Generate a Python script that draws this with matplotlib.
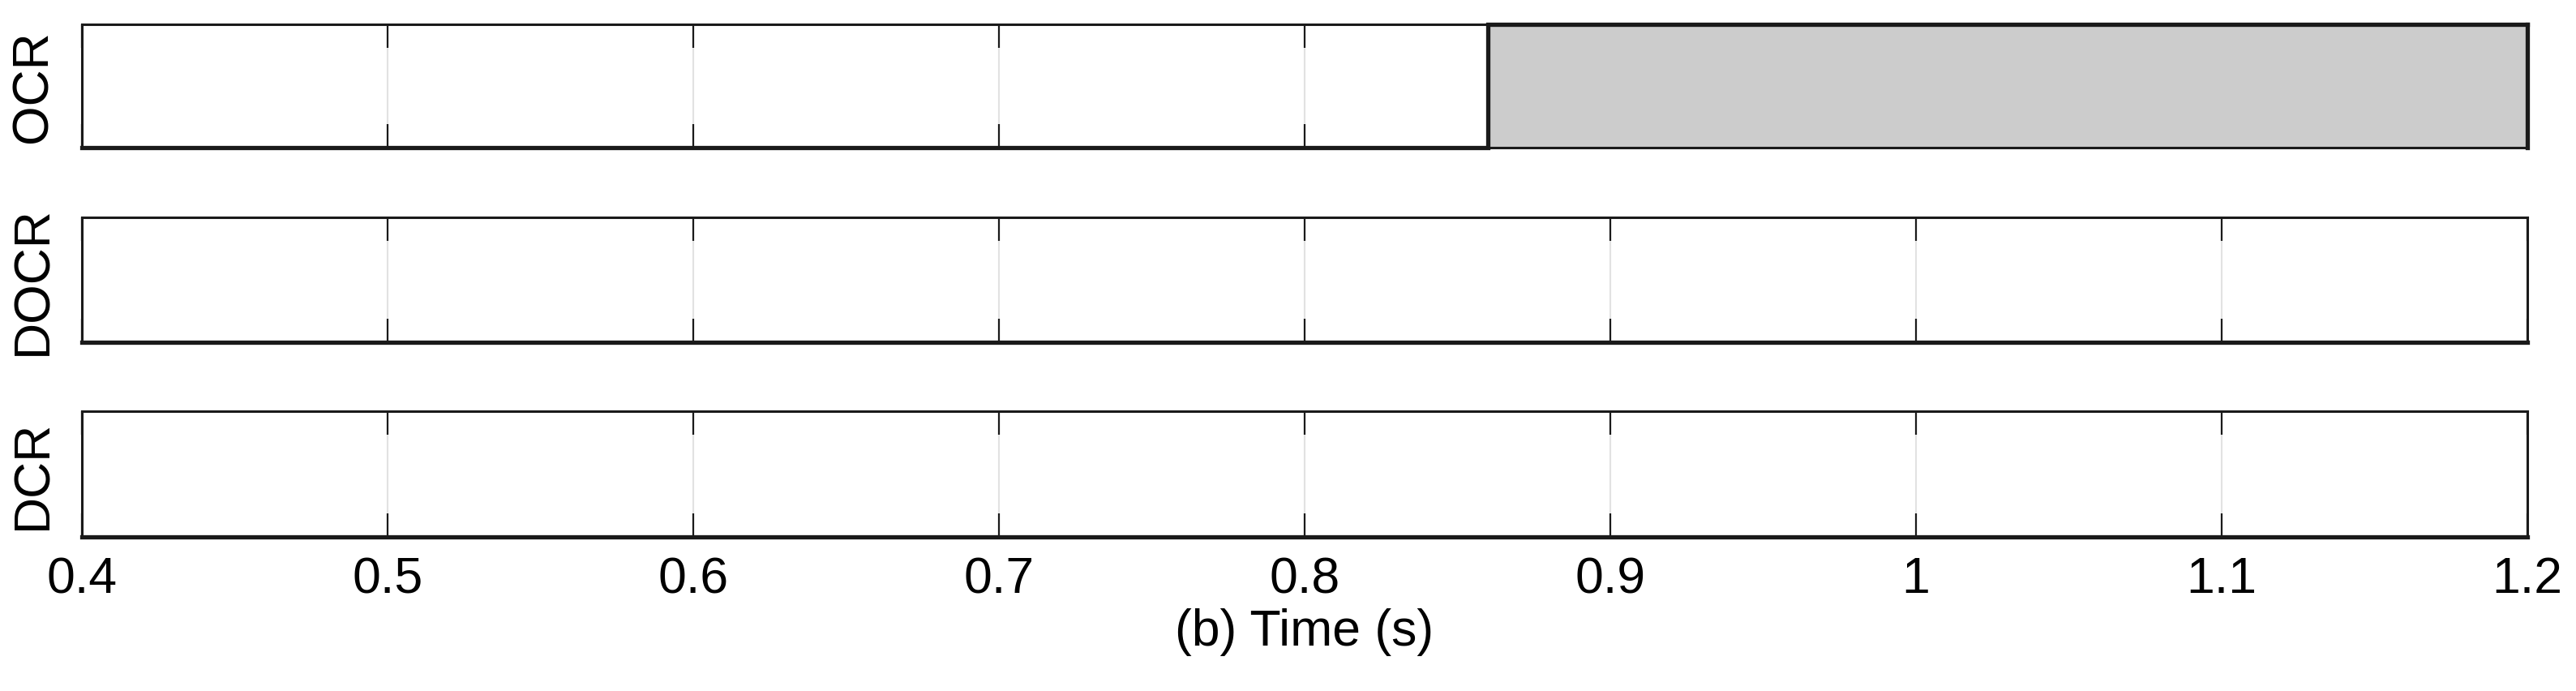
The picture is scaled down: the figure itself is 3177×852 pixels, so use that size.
import numpy as np
import matplotlib
matplotlib.use("Agg")
from matplotlib import pyplot as plt

plt.rcParams['font.family'] = ['Liberation Sans', 'DejaVu Sans']

# relay trip signals over time (0 = idle, 1 = tripped)
time = [0.4, 0.86, 0.86, 1.2]
signals = {
	"OCR": [0, 0, 1, 1],
	"DOCR": [0, 0, 0, 0],
	"DCR": [0, 0, 0, 0],
}
ticks = [0.4, 0.5, 0.6, 0.7, 0.8, 0.9, 1.0, 1.1, 1.2]
tick_labels = ["0.4", "0.5", "0.6", "0.7", "0.8", "0.9", "1", "1.1", "1.2"]
xlabel = "(b) Time (s)"

W, H = 3177, 853
fig = plt.figure(figsize=(W / 100, H / 100), dpi=100)

# axes boxes in pixels (top, bottom)
boxes = [(31, 183), (269, 423), (508, 663)]
left, right = 101, 3117

for i, (name, vals) in enumerate(signals.items()):
	top, bot = boxes[i]
	ax = fig.add_axes([left / W, 1 - bot / H, (right - left) / W, (bot - top) / H])
	ax.set_axisbelow(True)
	ax.fill_between(time, vals, 0, color="#cccccc", lw=0, zorder=1)
	ax.plot(time, vals, color="#1a1a1a", lw=3.8, clip_on=False, zorder=3,
		solid_joinstyle="miter")
	if max(vals) > 0:
		ax.plot([time[-1], time[-1]], [vals[-1], 0], color="#1a1a1a", lw=3.8,
			clip_on=False, zorder=3)
	ax.set_xlim(0.4, 1.2)
	ax.set_ylim(0, 1)
	ax.set_yticks([])
	ax.set_xticks(ticks)
	ax.grid(axis="x", color="#e2e2e2", lw=1.5)
	ax.tick_params(axis="x", direction="in", top=True, bottom=True,
		length=21, width=1.6, color="#1a1a1a", labelsize=45, pad=16)
	for s in ax.spines.values():
		s.set_linewidth(2.2)
		s.set_color("#1a1a1a")
	ax.set_ylabel(name, fontsize=45, labelpad=22)
	if i < len(signals) - 1:
		ax.set_xticklabels([])
	else:
		ax.set_xticklabels(tick_labels)
		ax.set_xlabel(xlabel, fontsize=45, labelpad=4)

fig.savefig("out.png", dpi=100)
